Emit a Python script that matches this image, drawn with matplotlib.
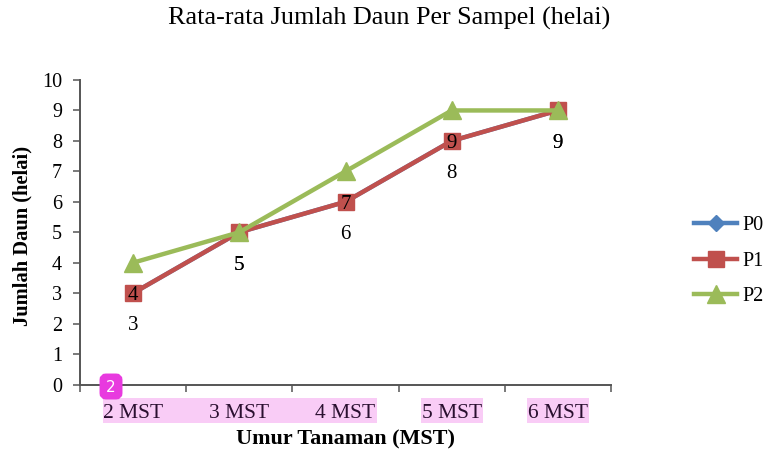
import matplotlib
matplotlib.use("Agg")
import matplotlib.pyplot as plt
from matplotlib.patches import Rectangle, FancyBboxPatch

plt.rcParams['font.family'] = ['Liberation Serif', 'DejaVu Serif']

categories = ["2 MST", "3 MST", "4 MST", "5 MST", "6 MST"]
p0_values = [3, 5, 6, 8, 9]
p1_values = [3, 5, 6, 8, 9]
p2_values = [4, 5, 7, 9, 9]
y_ticks = list(range(0, 11))

W, H = 766, 451
fig = plt.figure(figsize=(W / 100, H / 100), dpi=100, facecolor='white')
ax = fig.add_axes([80 / W, 1 - 384.5 / H, 531 / W, 304.5 / H])
x = list(range(len(categories)))

ax.plot(x, p0_values, color='#4F81BD', lw=3.2, marker='D', ms=8, label='P0', zorder=2)
ax.plot(x, p1_values, color='#C0504D', lw=3.2, marker='s', ms=12, label='P1', zorder=3)
ax.plot(x, p2_values, color='#9BBB59', lw=3.2, marker='^', ms=12.5, label='P2', zorder=4)

for xi, v in zip(x, p1_values):
    ax.annotate(str(v), (xi, v), xytext=(0, -23.6), textcoords='offset points',
                ha='center', va='center', fontsize=15, color='black', zorder=5)
for xi, v in zip(x, p2_values):
    ax.annotate(str(v), (xi, v), xytext=(0, -23.6), textcoords='offset points',
                ha='center', va='center', fontsize=15, color='black', zorder=5)

ax.set_xlim(-0.5, 4.5)
ax.set_ylim(0, 10)
ax.set_yticks(y_ticks)
ax.set_xticks([i - 0.5 for i in range(len(categories) + 1)])
ax.set_xticklabels([])
ax.set_xticks(x, minor=True)
ax.set_xticklabels(categories, minor=True, fontsize=15.5, color='#2a1030')
ax.tick_params(axis='x', which='major', length=5, width=1.1, color='#555555', direction='out')
ax.tick_params(axis='x', which='minor', length=0, pad=14)
ax.tick_params(axis='y', length=5, width=1.1, color='#555555', labelsize=14.5, pad=8, labelcolor='black')
for s in ['top', 'right']:
    ax.spines[s].set_visible(False)
for s in ['left', 'bottom']:
    ax.spines[s].set_color('#555555')
    ax.spines[s].set_linewidth(1.4)
ax.patch.set_alpha(0)

fig.text(389 / W, 1 - 18 / H, "Rata-rata Jumlah Daun Per Sampel (helai)", ha='center', va='center', fontsize=18.8)
fig.text(346 / W, 1 - 439 / H, "Umur Tanaman (MST)", ha='center', va='center', fontsize=15.9, fontweight='bold')
fig.text(22 / W, 1 - 236 / H, "Jumlah Daun (helai)", ha='center', va='center', rotation=90, fontsize=14.8, fontweight='bold')

for x0, x1 in [(103, 377), (421, 483), (527, 589)]:
    fig.add_artist(Rectangle((x0 / W, 1 - 423 / H), (x1 - x0) / W, 25 / H, transform=fig.transFigure,
                             facecolor='#F9CCF6', edgecolor='none', zorder=-5))

fig.add_artist(FancyBboxPatch((103, H - 396), 16, 19, boxstyle='round,pad=0,rounding_size=3',
                              transform=None, facecolor='#E83ADF', edgecolor='#E83ADF', lw=5, zorder=6))
fig.text(111 / W, 1 - 387 / H, "2", ha='center', va='center', fontsize=11, color='white',
         family='DejaVu Sans', zorder=7)

ax.legend(loc='center left', bbox_to_anchor=(694 / W, 1 - 261 / H), bbox_transform=fig.transFigure,
          frameon=False, fontsize=14.5, handlelength=2.14, handletextpad=0.25, labelspacing=0.83,
          borderpad=0, borderaxespad=0)

fig.savefig('out.png', dpi=100)
